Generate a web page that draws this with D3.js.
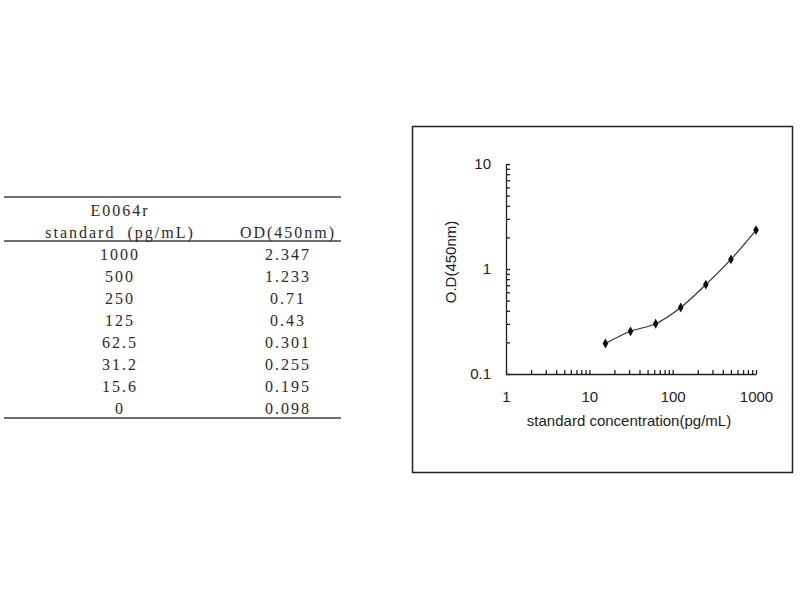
<!DOCTYPE html>
<html>
<head>
<meta charset="utf-8">
<script src="https://cdn.jsdelivr.net/npm/d3@7"></script>
<style>
  body { margin: 0; background: #fff; }
  svg { display: block; }
</style>
</head>
<body>
<div id="chart"></div>
<script>
// standard curve data (E0064r)
var standards = [1000, 500, 250, 125, 62.5, 31.2, 15.6, 0];
var odValues = [2.347, 1.233, 0.71, 0.43, 0.301, 0.255, 0.195, 0.098];
var tableHeader1 = ["E0064r", ""];
var tableHeader2 = ["standard\u00a0 (pg/mL)", "OD(450nm)"];
var xMajorTicks = [1, 10, 100, 1000];
var yMajorTicks = [0.1, 1, 10];

var svg = d3.select('#chart').append('svg')
    .attr('width', 800)
    .attr('height', 600);

// ---- table ----
var table = svg.append('g')
    .style('font-family', '"Liberation Serif", "DejaVu Serif", serif')
    .style('font-size', '16px')
    .style('letter-spacing', '2px')
    .attr('fill', '#2a2a2a');

var colX = [120, 288];
var rowY = d3.scaleLinear().domain([0, 1]).range([254, 276]);

[197, 241, 418].forEach(function(yy) {
    table.append('line')
        .attr('x1', 4).attr('x2', 341)
        .attr('y1', yy).attr('y2', yy)
        .attr('stroke', '#707070')
        .attr('stroke-width', 2);
});

[tableHeader1, tableHeader2].forEach(function(row, r) {
    row.forEach(function(t, c) {
        table.append('text')
            .attr('x', colX[c])
            .attr('y', 210 + r * 22)
            .attr('dy', '0.35em')
            .attr('text-anchor', 'middle')
            .text(t);
    });
});

table.selectAll('text.std')
    .data(standards)
    .enter()
    .append('text')
    .attr('class', 'std')
    .attr('x', colX[0])
    .attr('y', function(d, i) { return rowY(i); })
    .attr('dy', '0.35em')
    .attr('text-anchor', 'middle')
    .text(function(d) { return String(d); });

table.selectAll('text.od')
    .data(odValues)
    .enter()
    .append('text')
    .attr('class', 'od')
    .attr('x', colX[1])
    .attr('y', function(d, i) { return rowY(i); })
    .attr('dy', '0.35em')
    .attr('text-anchor', 'middle')
    .text(function(d) { return String(d); });

// ---- chart ----
svg.append('rect')
    .attr('x', 412.5).attr('y', 126.5)
    .attr('width', 380).attr('height', 346)
    .attr('fill', 'none')
    .attr('stroke', '#222')
    .attr('stroke-width', 1.5);

var x = d3.scaleLog().domain([1, 1000]).range([506, 756]);
var y = d3.scaleLog().domain([0.1, 10]).range([374, 164]);

function minorTicks(scale) {
    var out = [];
    var dom = scale.domain();
    for (var p = dom[0]; p < dom[1]; p *= 10) {
        for (var k = 1; k <= 10; k++) out.push(+(p * k).toPrecision(3));
    }
    return Array.from(new Set(out));
}

var chart = svg.append('g')
    .style('font-family', '"Liberation Sans", Arial, sans-serif');

var xAxis = chart.append('g')
    .attr('transform', 'translate(0,374)')
    .call(d3.axisBottom(x)
        .tickValues(minorTicks(x))
        .tickSizeInner(-4)
        .tickSizeOuter(0)
        .tickPadding(17)
        .tickFormat(function(d) { return xMajorTicks.indexOf(d) >= 0 ? d : ''; }));

var yAxis = chart.append('g')
    .attr('transform', 'translate(506,0)')
    .call(d3.axisLeft(y)
        .tickValues(minorTicks(y))
        .tickSizeInner(-4)
        .tickSizeOuter(0)
        .tickPadding(15)
        .tickFormat(function(d) { return yMajorTicks.indexOf(d) >= 0 ? d : ''; }));

[xAxis, yAxis].forEach(function(a) {
    a.selectAll('path, line').attr('stroke', '#222').attr('stroke-width', 1.3);
    a.selectAll('text')
        .attr('fill', '#222')
        .style('font-size', '15px')
        .style('font-family', '"Liberation Sans", Arial, sans-serif');
});

chart.append('text')
    .attr('x', 629)
    .attr('y', 426)
    .attr('text-anchor', 'middle')
    .attr('fill', '#222')
    .style('font-size', '15px')
    .text('standard concentration(pg/mL)');

chart.append('text')
    .attr('transform', 'translate(456,262) rotate(-90)')
    .attr('text-anchor', 'middle')
    .attr('fill', '#222')
    .style('font-size', '15px')
    .text('O.D(450nm)');

var points = standards
    .map(function(s, i) { return { s: s, od: odValues[i] }; })
    .filter(function(d) { return d.s > 0; })
    .sort(function(a, b) { return a.s - b.s; });

var line = d3.line()
    .x(function(d) { return x(d.s); })
    .y(function(d) { return y(d.od); })
    .curve(d3.curveCatmullRom.alpha(0.5));

chart.append('path')
    .datum(points)
    .attr('d', line)
    .attr('fill', 'none')
    .attr('stroke', '#333')
    .attr('stroke-width', 1.2);

chart.selectAll('path.marker')
    .data(points)
    .enter()
    .append('path')
    .attr('class', 'marker')
    .attr('d', d3.symbol().type(d3.symbolDiamond).size(28))
    .attr('transform', function(d) { return 'translate(' + x(d.s) + ',' + y(d.od) + ')'; })
    .attr('fill', '#111');
</script>
</body>
</html>
